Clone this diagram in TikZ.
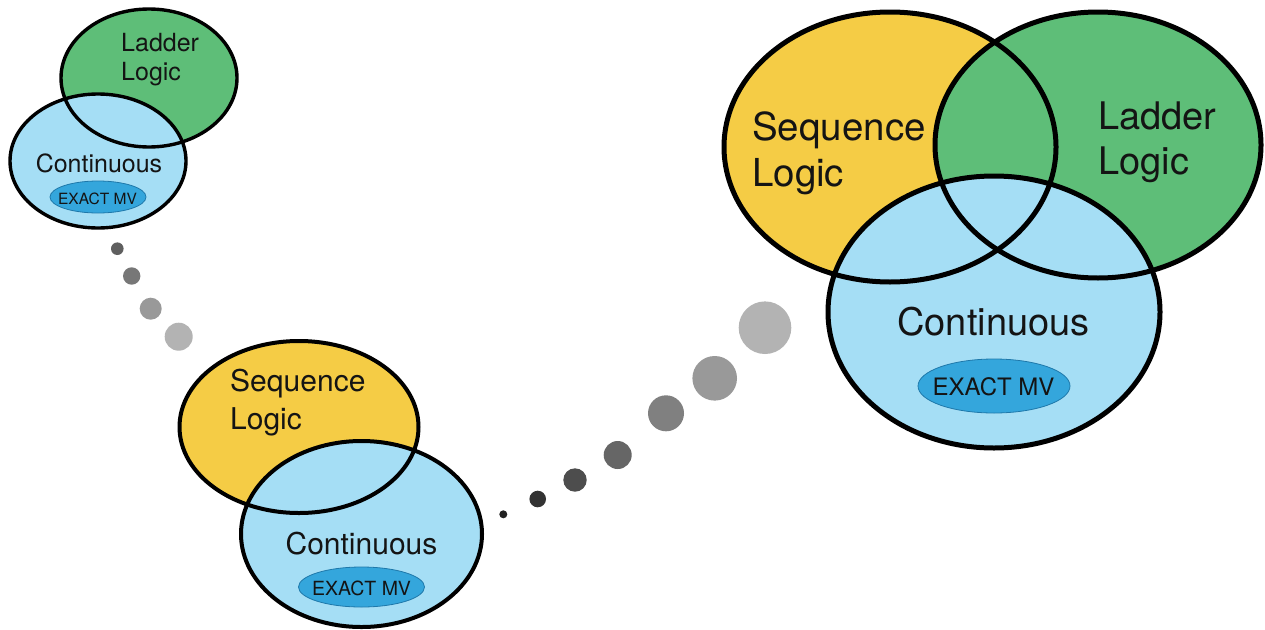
\documentclass[tikz,border=0pt]{standalone}
\usepackage{fontspec}
\setmainfont{TeX Gyre Heros}
\definecolor{seqyellow}{RGB}{245,204,69}
\definecolor{ladgreen}{RGB}{94,190,120}
\definecolor{contblue}{RGB}{165,222,245}
\definecolor{exactblue}{RGB}{52,166,220}
\definecolor{exactline}{RGB}{30,120,170}
\definecolor{txt}{RGB}{20,20,20}
\tikzset{
  lbl/.style={inner sep=0pt, text=txt, align=left},
  exactfill/.style={fill=exactblue, draw=exactline, line width=0.8pt},
  dotshape/.style={circle, inner sep=0pt, draw=none}
}
\newcommand{\fs}[2]{\fontsize{#1}{#2}\selectfont}
\begin{document}
\begin{tikzpicture}[x=1pt,y=-1pt]
\useasboundingbox (0,0) rectangle (1265,629);
\fill[white] (0,0) rectangle (1265,629);

% ---------- top-left group ----------
\fill[ladgreen] (149,78) ellipse [x radius=88pt, y radius=69pt];
\fill[contblue] (98,161) ellipse [x radius=88pt, y radius=67pt];
\draw[line width=3.4pt] (149,78) ellipse [x radius=88pt, y radius=69pt];
\draw[line width=3.4pt] (98,161) ellipse [x radius=88pt, y radius=67pt];
\draw[exactfill] (98,197) ellipse [x radius=48pt, y radius=16pt];
\node[lbl, anchor=north west, font=\fs{25}{29}] (tlLadder) at (121,33.5) {Ladder\\Logic};
\node[lbl, anchor=base, font=\fs{25}{29}] (tlCont) at (99,172.7) {Continuous};
\node[lbl, anchor=base, font=\fs{15.5}{18}] (tlExact) at (97.5,204.3) {EXACT MV};

% dots from top-left group
\node[dotshape, fill={rgb,255:red,95;green,95;blue,95}, minimum size=12.6pt] (d1) at (117.3,248.7) {};
\node[dotshape, fill={rgb,255:red,119;green,119;blue,119}, minimum size=17.4pt] (d2) at (131.7,276) {};
\node[dotshape, fill={rgb,255:red,153;green,153;blue,153}, minimum size=22pt] (d3) at (150.7,308.7) {};
\node[dotshape, fill={rgb,255:red,179;green,179;blue,179}, minimum size=28pt] (d4) at (178.7,336.7) {};

% ---------- middle group ----------
\fill[seqyellow] (299,427) ellipse [x radius=119.5pt, y radius=86pt];
\fill[contblue] (361.5,534) ellipse [x radius=120.5pt, y radius=93pt];
\draw[line width=4pt] (299,427) ellipse [x radius=119.5pt, y radius=86pt];
\draw[line width=4pt] (361.5,534) ellipse [x radius=120.5pt, y radius=93pt];
\draw[exactfill] (361.5,587) ellipse [x radius=63pt, y radius=20pt];
\node[lbl, anchor=north west, font=\fs{30}{38}] (mSeq) at (230,368.5) {Sequence\\Logic};
\node[lbl, anchor=base, font=\fs{30}{36}] (mCont) at (361.5,554) {Continuous};
\node[lbl, anchor=base, font=\fs{19.5}{22}] (mExact) at (361.5,595) {EXACT MV};

% dots from middle to right group
\node[dotshape, fill={rgb,255:red,34;green,34;blue,34}, minimum size=8pt] (e1) at (503.3,514.3) {};
\node[dotshape, fill={rgb,255:red,51;green,51;blue,51}, minimum size=16.6pt] (e2) at (537.7,499) {};
\node[dotshape, fill={rgb,255:red,77;green,77;blue,77}, minimum size=23.4pt] (e3) at (575,480) {};
\node[dotshape, fill={rgb,255:red,102;green,102;blue,102}, minimum size=28pt] (e4) at (617.7,455) {};
\node[dotshape, fill={rgb,255:red,128;green,128;blue,128}, minimum size=36pt] (e5) at (666,413.3) {};
\node[dotshape, fill={rgb,255:red,153;green,153;blue,153}, minimum size=44.6pt] (e6) at (714.7,378.3) {};
\node[dotshape, fill={rgb,255:red,179;green,179;blue,179}, minimum size=52.6pt] (e7) at (765,327.7) {};

% ---------- right group ----------
\fill[seqyellow] (890,147) ellipse [x radius=166pt, y radius=135pt];
\fill[ladgreen] (1098,145) ellipse [x radius=163pt, y radius=133pt];
\fill[contblue] (994,312) ellipse [x radius=166pt, y radius=136pt];
\draw[line width=5pt] (890,147) ellipse [x radius=166pt, y radius=135pt];
\draw[line width=5pt] (1098,145) ellipse [x radius=163pt, y radius=133pt];
\draw[line width=5pt] (994,312) ellipse [x radius=166pt, y radius=136pt];
\draw[exactfill] (994,386) ellipse [x radius=76pt, y radius=27pt];
\node[lbl, anchor=north west, font=\fs{38.5}{45.5}] (rSeq) at (752,112) {Sequence\\Logic};
\node[lbl, anchor=north west, font=\fs{38}{45}] (rLad) at (1098,102) {Ladder\\Logic};
\node[lbl, anchor=base, font=\fs{38}{45}] (rCont) at (993.5,335) {Continuous};
\node[lbl, anchor=base, font=\fs{24}{28}] (rExact) at (993.5,395) {EXACT MV};
\end{tikzpicture}
\end{document}
